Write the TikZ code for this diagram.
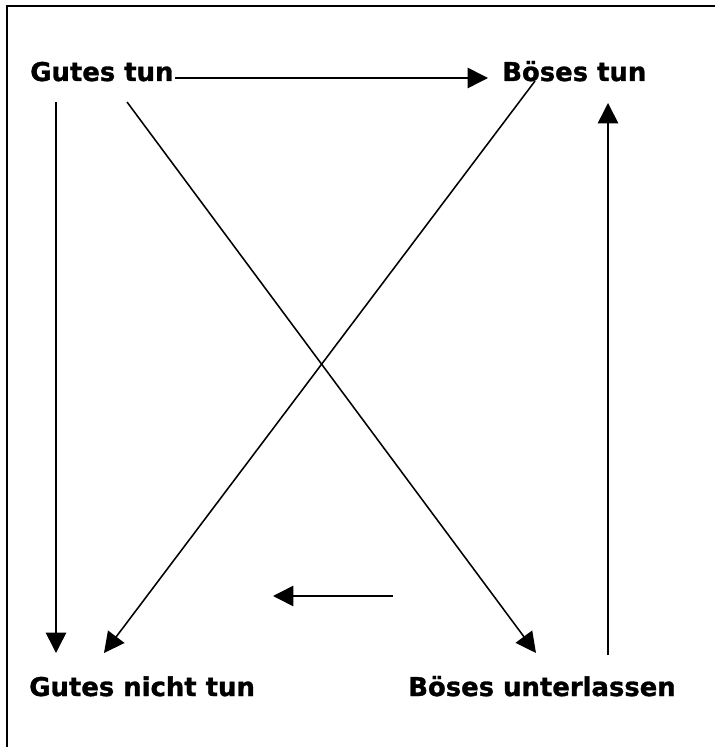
\documentclass[tikz,border=0pt]{standalone}
\usepackage{fontspec}
\setmainfont{DejaVu Sans}[BoldFeatures={FakeBold=1.2}]
\usetikzlibrary{arrows.meta, positioning}
\tikzset{
  word/.style={font=\bfseries\fontsize{18.4}{22}\selectfont, inner sep=0pt, anchor=base west},
  arr/.style={-{Triangle[length=14.5pt, width=14.5pt]}, line width=1.1pt},
}

\begin{document}
\begin{tikzpicture}[x=0.025cm, y=-0.025cm]
  \useasboundingbox (0,0) rectangle (715,747);
  % frame (only top and left edge show)
  \draw[line width=1.5pt] (715,6) -- (7,6) -- (7,747);
  % the four words
  \node[word] (gt) at (30,81) {Gutes tun};
  \node[word] (bt) at (502,81) {Böses tun};
  \node[word] (gnt) at (29,696) {Gutes nicht tun};
  \node[word] (bu) at (408,696) {Böses unterlassen};
  % arrow ends
  \coordinate (gt-r) at (175,78);
  \coordinate (bt-l) at (488,78);
  \coordinate (gt-d) at (56,102);
  \coordinate (gnt-u) at (56,653);
  \coordinate (gt-x) at (127,102);
  \coordinate (bu-x) at (536,653);
  \coordinate (bt-x) at (535,81);
  \coordinate (gnt-x) at (104,653);
  \coordinate (bu-u) at (608,655);
  \coordinate (bt-d) at (608,103);
  \coordinate (mid-r) at (393,596);
  \coordinate (mid-l) at (273,596);
  % connectors
  \draw[arr] (gt-r) -- (bt-l);
  \draw[arr] (gt-d) -- (gnt-u);
  \draw[arr] (gt-x) -- (bu-x);
  \draw[arr] (bt-x) -- (gnt-x);
  \draw[arr] (bu-u) -- (bt-d);
  \draw[arr] (mid-r) -- (mid-l);
\end{tikzpicture}
\end{document}
